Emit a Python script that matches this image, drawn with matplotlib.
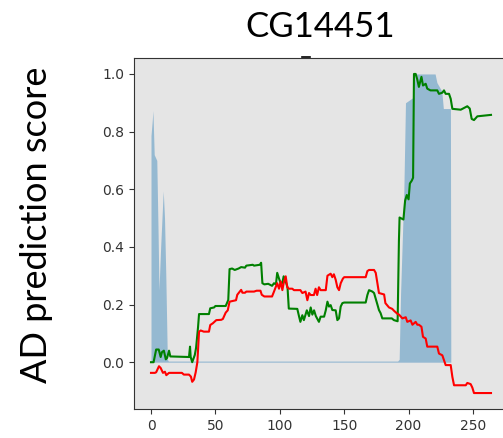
import matplotlib
matplotlib.use("Agg")
import matplotlib.pyplot as plt
from matplotlib.lines import Line2D

# Residue positions and per-residue scores for CG14451
green_x = [0, 2, 3.6, 4, 6, 7.5, 8.5, 10, 11.5, 12.5, 14, 15, 29.5, 30.3, 30.8, 32, 34, 35, 36.5, 37.3,
           45, 46, 49, 50, 58, 60, 61, 63, 65, 68, 70, 73, 74, 79, 80, 84.5, 85.5, 86.5, 88, 91, 94,
           95.5, 97, 98, 99.4, 100.7, 102, 103, 104.6, 106, 107, 113.6, 115, 116, 117.5, 118.7, 121,
           122.7, 124, 125.3, 126.6, 128, 130.4, 131.7, 134.4, 135.7, 137, 138.2, 139.5, 140.8, 143.4,
           144.7, 146, 147.3, 148.6, 150, 166.7, 168, 169.3, 171.9, 173.2, 174.5, 175.8, 177, 178.3,
           179.6, 187, 188.6, 191.5, 192.5, 193, 196, 197.3, 198.6, 200, 201, 202.5, 203.5, 204.2,
           205.5, 206.8, 208, 210, 211.2, 213.3, 214.5, 217, 222.3, 223.6, 226.2, 227.5, 228.8, 231.4,
           232.7, 234, 240.5, 241.8, 245.6, 247.5, 249, 250.8, 253.4, 264]
green_y = [0.0, 0.0, 0.035, 0.044, 0.044, 0.018, 0.035, 0.04, 0.01, 0.015, 0.04, 0.02, 0.018, 0.054,
           0.018, 0.0, 0.025, 0.05, 0.12, 0.167, 0.167, 0.187, 0.19, 0.195, 0.195, 0.216, 0.323, 0.325,
           0.32, 0.325, 0.33, 0.328, 0.335, 0.338, 0.335, 0.338, 0.345, 0.274, 0.27, 0.272, 0.265,
           0.274, 0.27, 0.31, 0.29, 0.274, 0.275, 0.298, 0.28, 0.26, 0.186, 0.185, 0.158, 0.14, 0.163,
           0.146, 0.18, 0.16, 0.19, 0.165, 0.18, 0.16, 0.14, 0.158, 0.158, 0.18, 0.21, 0.193, 0.198,
           0.181, 0.18, 0.146, 0.152, 0.193, 0.205, 0.207, 0.207, 0.233, 0.25, 0.245, 0.24, 0.22, 0.2,
           0.181, 0.17, 0.152, 0.152, 0.146, 0.142, 0.42, 0.502, 0.495, 0.56, 0.58, 0.565, 0.62, 0.63,
           0.64, 1.0, 1.0, 0.98, 0.955, 0.99, 0.96, 0.966, 0.949, 0.943, 0.943, 0.931, 0.935, 0.943,
           0.931, 0.931, 0.914, 0.879, 0.876, 0.879, 0.888, 0.88, 0.844, 0.84, 0.853, 0.858]

red_x = [0, 3, 4, 6.2, 7.5, 9.3, 10.8, 11.9, 14, 24, 25.5, 29.5, 31, 32, 33.4, 34.7, 36, 37.3, 38.6,
         41, 45, 46, 48, 50.7, 54.5, 55.8, 58, 59.6, 61, 66, 67, 70, 71, 73, 74, 80, 82, 85, 86, 88,
         94, 95.5, 98, 99.4, 100.7, 102, 103, 104.6, 105.8, 107, 109.7, 111, 116, 117.5, 120, 121.4,
         122.7, 124, 126.5, 127.8, 129, 130.4, 131.7, 135.7, 137, 139.5, 140.8, 142, 143.4, 144.7,
         146, 147.3, 149, 150, 166.7, 168, 169.3, 173.2, 174.5, 175.8, 177, 181, 182, 184.8, 187.3,
         188.8, 191.3, 192.6, 195.2, 197.8, 199, 201.6, 203, 205.5, 206.8, 208, 210, 211.2, 213.3,
         214.5, 222.3, 223.6, 226.2, 227.5, 228.8, 232.7, 234, 235.3, 244.4, 245.6, 248.2, 249.5,
         250.8, 264]
red_y = [-0.037, -0.037, -0.035, -0.014, -0.02, -0.037, -0.033, -0.045, -0.037, -0.037, -0.043,
         -0.043, -0.05, -0.068, -0.06, -0.035, 0.0, 0.106, 0.11, 0.106, 0.106, 0.129, 0.135, 0.146,
         0.147, 0.15, 0.172, 0.18, 0.21, 0.215, 0.234, 0.251, 0.241, 0.241, 0.245, 0.245, 0.248, 0.248,
         0.234, 0.228, 0.228, 0.245, 0.274, 0.255, 0.28, 0.25, 0.274, 0.298, 0.26, 0.255, 0.255, 0.25,
         0.25, 0.24, 0.245, 0.215, 0.24, 0.233, 0.233, 0.255, 0.233, 0.26, 0.25, 0.25, 0.30, 0.307,
         0.295, 0.305, 0.286, 0.26, 0.25, 0.274, 0.29, 0.295, 0.295, 0.316, 0.32, 0.32, 0.31, 0.274,
         0.24, 0.235, 0.205, 0.19, 0.185, 0.178, 0.168, 0.165, 0.152, 0.156, 0.14, 0.145, 0.13, 0.14,
         0.13, 0.13, 0.123, 0.088, 0.082, 0.054, 0.054, 0.03, 0.024, 0.007, -0.01, -0.01, -0.051,
         -0.08, -0.08, -0.072, -0.076, -0.088, -0.107, -0.107]

blue_x = [0, 1, 1.5, 2.5, 4.5, 5.5, 6.2, 7.5, 9.5, 10.5, 11.5, 12.7, 13.5, 191.5, 192.7, 193.8,
          196.3, 197.6, 204, 205, 220.6, 222, 225.8, 227, 232.5, 232.8, 264]
blue_y = [0.786, 0.84, 0.873, 0.72, 0.70, 0.45, 0.25, 0.40, 0.594, 0.50, 0.30, 0.01, 0.004,
          0.004, 0.01, 0.24, 0.59, 0.90, 0.92, 1.0, 1.0, 0.97, 0.94, 0.88, 0.88, 0.0, 0.0]

title_text = "CG14451"
ylabel_text = "AD prediction score"
xticks = [0, 50, 100, 150, 200, 250]
yticks = [0.0, 0.2, 0.4, 0.6, 0.8, 1.0]

W, H = 503, 438
fig = plt.figure(figsize=(W / 100, H / 100), dpi=100)
fig.patch.set_facecolor("white")

ax = fig.add_axes([134 / W, 1 - 409 / H, 374 / W, 351 / H])
ax.set_facecolor("#e5e5e5")

ax.fill_between(blue_x, 0, blue_y, color="#1f77b4", alpha=0.4, linewidth=0)
ax.plot(green_x, green_y, color="green", linewidth=1.5)
ax.plot(red_x, red_y, color="red", linewidth=1.5)

ax.set_xticks(xticks)
ax.set_yticks(yticks)
ax.set_yticklabels([f"{v:.1f}" for v in yticks])
ax.tick_params(labelsize=10, colors="#333333", labelcolor="#333333")
for s in ax.spines.values():
    s.set_color("#333333")

text_font = ["Lato", "DejaVu Sans"]
fig.text(320 / W, 1 - 27 / H, title_text, ha="center", va="center",
         fontsize=25, family=text_font, color="black")
fig.text(37 / W, 1 - 225 / H, ylabel_text, ha="center", va="center", rotation=90,
         fontsize=26, family=text_font, color="black")

# small dash below the title
fig.add_artist(Line2D([302 / W, 310 / W], [1 - 56.5 / H, 1 - 56.5 / H],
                      color="black", linewidth=1.2, transform=fig.transFigure))

fig.savefig("out.png", dpi=100)
